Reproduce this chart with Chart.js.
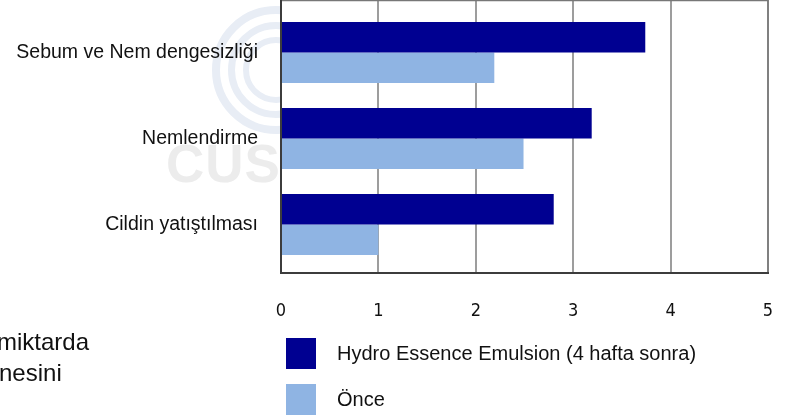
<!DOCTYPE html>
<html>
<head>
<meta charset="utf-8">
<script src="https://cdn.jsdelivr.net/npm/chart.js@4.4.1/dist/chart.umd.min.js"></script>
<style>
    html, body { margin: 0; padding: 0; background: #fff; }
    body { width: 787px; height: 418px; position: relative; overflow: hidden; font-family: "Liberation Sans", Arial, sans-serif; color: #111; }
    .ring { position: absolute; border-radius: 50%; border-style: solid; border-color: #e8edf5; box-sizing: border-box; }
    .cus { position: absolute; left: 166px; top: 133px; font: bold 53px "Liberation Sans", Arial, sans-serif; color: #ececec; letter-spacing: 1px; }
    #chart { position: absolute; left: 0; top: 0; }
    .side { position: absolute; left: -3px; font-size: 24px; line-height: 31px; }
    #legend { position: absolute; left: 286px; top: 338px; }
    .item { display: flex; align-items: center; height: 31px; margin-bottom: 15px; font-size: 20px; }
    .box { width: 30px; height: 31px; margin-right: 21px; }
</style>
</head>
<body>
<!-- watermark behind the chart -->
<div class="ring" style="left:212px;top:6px;width:128px;height:128px;border-width:8px"></div>
<div class="ring" style="left:228px;top:22px;width:96px;height:96px;border-width:7px"></div>
<div class="ring" style="left:243px;top:37px;width:66px;height:66px;border-width:6px"></div>
<div class="cus">CUS</div>

<canvas id="chart" width="787" height="418"></canvas>

<div class="side" style="top:326px">miktarda</div>
<div class="side" style="top:357px;left:-1px">nesini</div>

<div id="legend"></div>

<script>
// ===== Data =====
const categories = ["Sebum ve Nem dengesizliği", "Nemlendirme", "Cildin yatıştılması"];
const afterValues = [3.74, 3.19, 2.8];
const beforeValues = [2.19, 2.49, 1.0];
const xTicks = [0, 1, 2, 3, 4, 5];
const seriesNames = ["Hydro Essence Emulsion (4 hafta sonra)", "Önce"];

const darkBlue = "#000091";
const lightBlue = "#8fb4e3";

// plot frame sits a little outside the bar area
const frameTop = 9.5;
const frameBottom = 5.5;

// ===== Frame + grid plugin =====
const framePlugin = {
    id: "frame",
    beforeDraw(chart) {
        const { ctx, chartArea } = chart;
        ctx.save();
        ctx.fillStyle = "#fff";
        ctx.fillRect(chartArea.left, chartArea.top - frameTop, chartArea.right - chartArea.left, chartArea.bottom - chartArea.top + frameTop + frameBottom);
        ctx.restore();
    },
    beforeDatasetsDraw(chart) {
        const { ctx, chartArea, scales } = chart;
        ctx.save();
        ctx.strokeStyle = "#7c7c7c";
        ctx.lineWidth = 1.5;
        scales.x.ticks.forEach((t) => {
            const x = Math.round(scales.x.getPixelForValue(t.value));
            ctx.beginPath();
            ctx.moveTo(x, chartArea.top - frameTop);
            ctx.lineTo(x, chartArea.bottom + frameBottom);
            ctx.stroke();
        });
        ctx.restore();
    },
    afterDatasetsDraw(chart) {
        const { ctx, chartArea } = chart;
        const top = chartArea.top - frameTop;
        const bottom = chartArea.bottom + frameBottom;
        ctx.save();
        ctx.strokeStyle = "#777";
        ctx.lineWidth = 1.5;
        ctx.beginPath();
        ctx.moveTo(chartArea.left, top + 0.5);
        ctx.lineTo(chartArea.right, top + 0.5);
        ctx.lineTo(chartArea.right, bottom);
        ctx.stroke();
        ctx.strokeStyle = "#3c3c3c";
        ctx.lineWidth = 2;
        ctx.beginPath();
        ctx.moveTo(chartArea.left, top);
        ctx.lineTo(chartArea.left, bottom);
        ctx.lineTo(chartArea.right + 1, bottom);
        ctx.stroke();
        ctx.restore();
    }
};

// ===== Chart =====
const chart = new Chart(document.getElementById("chart"), {
    type: "bar",
    data: {
        labels: categories,
        datasets: [
            { label: seriesNames[0], data: afterValues, backgroundColor: darkBlue },
            { label: seriesNames[1], data: beforeValues, backgroundColor: lightBlue }
        ]
    },
    options: {
        indexAxis: "y",
        responsive: false,
        animation: false,
        events: [],
        layout: { padding: { left: 0, right: 19, top: frameTop, bottom: 0 } },
        datasets: { bar: { categoryPercentage: 0.71, barPercentage: 1.0 } },
        plugins: { legend: { display: false }, tooltip: { enabled: false } },
        scales: {
            x: {
                min: 0,
                max: 5,
                afterBuildTicks: (scale) => { scale.ticks = xTicks.map((v) => ({ value: v })); },
                afterFit: (scale) => {
                    scale.height = 418 - 267.5;
                    scale.paddingLeft = 0;
                    scale.paddingRight = 0;
                },
                grid: { display: false, drawTicks: false },
                border: { display: false },
                ticks: {
                    padding: 33,
                    color: "#111",
                    font: { family: '"Liberation Sans Narrow", "DejaVu Sans Condensed", sans-serif', size: 18 }
                }
            },
            y: {
                afterFit: (scale) => {
                    scale.width = 281;
                    scale.paddingTop = 0;
                    scale.paddingBottom = 0;
                },
                grid: { display: false, drawTicks: false },
                border: { display: false },
                ticks: {
                    padding: 23,
                    color: "#111",
                    font: { family: '"Liberation Sans", Arial, sans-serif', size: 19.5 }
                }
            }
        }
    },
    plugins: [framePlugin]
});

// ===== Legend built from the datasets =====
const legend = document.getElementById("legend");
chart.data.datasets.forEach((ds) => {
    const item = document.createElement("div");
    item.className = "item";
    item.innerHTML = `<span class="box" style="background:${ds.backgroundColor}"></span><span>${ds.label}</span>`;
    legend.appendChild(item);
});
</script>
</body>
</html>
